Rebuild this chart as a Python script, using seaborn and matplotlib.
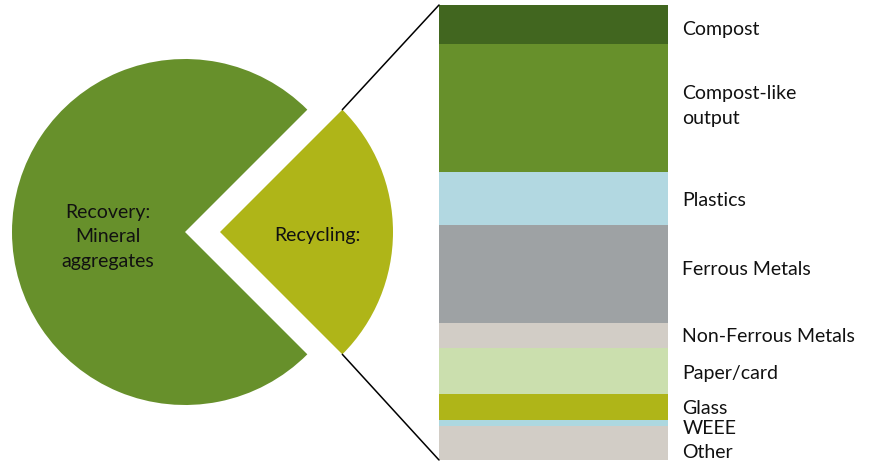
import matplotlib
matplotlib.use('Agg')
import numpy as np
import seaborn as sns
from matplotlib import pyplot as plt
from matplotlib.patches import ConnectionPatch
from matplotlib.transforms import offset_copy

# pie: share of recovered output
pie_labels = ['Recycling:', 'Recovery:\nMineral\naggregates']
pie_shares = [25, 75]
pie_colors = ['#afb518', '#67902b']

# bar: breakdown of the recycling slice (%)
materials = ['Compost', 'Compost-like\noutput', 'Plastics', 'Ferrous Metals',
             'Non-Ferrous Metals', 'Paper/card', 'Glass', 'WEEE', 'Other']
shares = [8.6, 28.1, 11.6, 21.5, 5.5, 10.3, 5.7, 1.3, 7.4]
colors = ['#41661f', '#67902b', '#b2d8e1', '#9ea2a4', '#d2cdc6',
          '#cbdfae', '#afb518', '#add8e0', '#d2cdc6']

# small vertical nudges (px, downwards) so labels sit like the original
label_nudge = [4, -3, 1, -5, 0, 1, 0, 4, 8]

W, H = 872, 464
FONT_SIZE = 14
TEXT_COLOR = '#111111'


def start():
    sns.set_theme(style='white')
    plt.rcParams['font.family'] = ['Lato', 'DejaVu Sans']

    fig = plt.figure(figsize=(W / 100, H / 100), dpi=100)

    # pie axes in pixel units (y up)
    pax = fig.add_axes([0, 0, 1, 1])
    center = (185, H - 233)
    radius = 173
    wedges, _ = pax.pie(pie_shares, colors=pie_colors, startangle=-45,
                        explode=[35, 0], center=center, radius=radius,
                        wedgeprops=dict(linewidth=0))
    pax.set_xlim(0, W)
    pax.set_ylim(0, H)
    pax.set_aspect('equal')
    pax.axis('off')

    pax.text(317, H - 236, pie_labels[0], ha='center', va='center',
             fontsize=FONT_SIZE, color=TEXT_COLOR)
    pax.text(108, H - 237, pie_labels[1], ha='center', va='center',
             fontsize=FONT_SIZE, color=TEXT_COLOR, linespacing=1.55)

    # stacked bar, drawn as overlapping cumulative bars
    bax = fig.add_axes([439 / W, 3 / H, 229 / W, 455 / H])
    cum = np.cumsum(shares)
    for i in reversed(range(len(shares))):
        sns.barplot(x=['r'], y=[cum[i]], color=colors[i], saturation=1,
                    width=1, linewidth=0, ax=bax)
    bax.set_xlim(-0.5, 0.5)
    bax.set_ylim(cum[-1], 0)
    bax.axis('off')

    mids = cum - np.array(shares) / 2
    for lab, y, dy in zip(materials, mids, label_nudge):
        tr = offset_copy(bax.get_yaxis_transform(), fig=fig, y=-dy, units='dots')
        bax.text(1.063, y, lab, transform=tr, ha='left', va='center',
                 fontsize=FONT_SIZE, color=TEXT_COLOR, linespacing=1.55)

    # connector lines from the recycling wedge to the bar
    w = wedges[0]
    cx, cy = w.center
    for ang, ya in [(w.theta2, 1), (w.theta1, 0)]:
        xy = (cx + w.r * np.cos(np.radians(ang)), cy + w.r * np.sin(np.radians(ang)))
        con = ConnectionPatch(xyA=xy, coordsA=pax.transData, xyB=(0, ya),
                              coordsB=bax.transAxes, color='black', linewidth=1.1)
        fig.add_artist(con)

    plt.savefig('out.png', dpi=100)


start()
